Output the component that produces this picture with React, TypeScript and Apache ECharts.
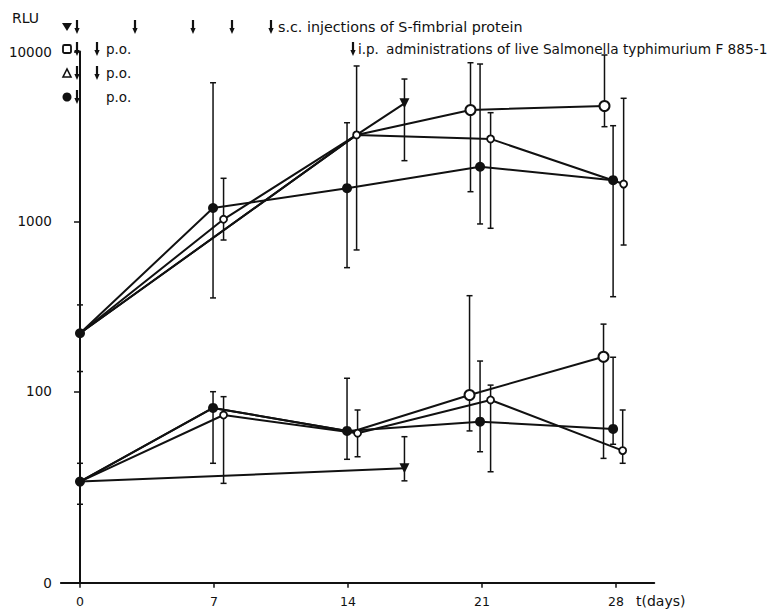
import React, { useEffect, useRef } from "react";
import * as echarts from "echarts";

// ---------- data (values in RLU, x in days) ----------
// upper (responding) group
const filledHighDays = [0, 6.95, 13.95, 20.9, 27.85];
const filledHighVals = [220, 1200, 1570, 2100, 1750];
const filledHighLo = [131, 355, 535, 967, 361];
const filledHighHi = [323, 6550, 3810, 8440, 3660];

const triHighDays = [0, 7.5, 14.45, 21.45, 28.4];
const triHighVals = [220, 1030, 3230, 3060, 1660];
const triHighLo = [null, 778, 680, 912, 727];
const triHighHi = [null, 1795, 8220, 4365, 5305];

const sqHighDays = [0, 14.45, 20.4, 27.4];
const sqHighVals = [220, 3230, 4530, 4780];
const sqHighLo = [null, null, 1497, 3611];
const sqHighHi = [null, null, 8590, 9537];

const invHighDays = [0, 14.45, 16.95];
const invHighVals = [220, 3230, 4955];
const invHighLo = [null, null, 2279];
const invHighHi = [null, null, 6887];

// lower group
const filledLowDays = [0, 6.95, 13.95, 20.9, 27.85];
const filledLowVals = [29.5, 80, 58.6, 66.4, 60.2];
const filledLowLo = [21.7, 37.8, 39.9, 44.2, 48.9];
const filledLowHi = [37.8, 99.7, 119.6, 151, 159];

const triLowDays = [0, 7.5, 14.5, 21.45, 28.35];
const triLowVals = [29.5, 72.7, 56.8, 89.1, 44.9];
const triLowLo = [null, 28.8, 41.3, 33.7, 37.8];
const triLowHi = [null, 93.2, 77.8, 109, 77.8];

const sqLowDays = [0, 6.95, 14.2, 20.35, 27.35];
const sqLowVals = [29.5, 80, 58, 95.3, 160];
const sqLowLo = [null, null, null, 58.6, 40.4];
const sqLowHi = [null, null, null, 366, 249];

const invLowDays = [0, 16.95];
const invLowVals = [29.5, 35.3];
const invLowLo = [null, 29.8];
const invLowHi = [null, 54.2];

// axes
const xTicks = [0, 7, 14, 21, 28];
const yTickVals = [100, 1000, 10000];
const yBottomLabel = "0";
const Y_MIN = 0.875; // log10 position of the "0" baseline
const Y_MAX = 4;

const FONT = "DejaVu Sans";
const INK = "#111";

const L = (v: number) => Math.log10(v);

type Marker = "filled" | "tri" | "sq" | "inv";

function lineSeries(
  name: string,
  days: number[],
  vals: number[],
  marker: Marker,
  hidden: number[]
) {
  const base: any = {
    name,
    type: "line",
    z: 3,
    lineStyle: { color: INK, width: 2 },
    showSymbol: true,
    data: days.map((d, i) => {
      const item: any = { value: [d, L(vals[i])] };
      if (hidden.includes(i)) item.symbol = "none";
      return item;
    }),
  };
  if (marker === "filled") {
    base.symbol = "circle";
    base.symbolSize = 10;
    base.itemStyle = { color: INK };
  } else if (marker === "sq") {
    base.symbol = "circle";
    base.symbolSize = 10;
    base.itemStyle = { color: "#fff", borderColor: INK, borderWidth: 2 };
  } else if (marker === "tri") {
    base.symbol = "circle";
    base.symbolSize = 7;
    base.itemStyle = { color: "#fff", borderColor: INK, borderWidth: 1.8 };
  } else {
    base.symbol = "triangle";
    base.symbolRotate = 180;
    base.symbolSize = 10;
    base.itemStyle = { color: INK };
  }
  return base;
}

function errData(days: number[], lo: (number | null)[], hi: (number | null)[]) {
  const out: number[][] = [];
  days.forEach((d, i) => {
    const a = lo[i];
    const b = hi[i];
    if (a != null && b != null) out.push([d, L(a), L(b)]);
  });
  return out;
}

function arrow(x: number, y: number): any {
  return {
    type: "group",
    children: [
      {
        type: "line",
        shape: { x1: x, y1: y - 7, x2: x, y2: y + 3 },
        style: { stroke: INK, lineWidth: 2.2 },
      },
      {
        type: "polygon",
        shape: { points: [[x - 2.6, y + 1], [x + 2.6, y + 1], [x, y + 7]] },
        style: { fill: INK },
      },
    ],
  };
}

function label(text: string, x: number, y: number, size = 13.5, weight = "normal"): any {
  return {
    type: "text",
    x,
    y,
    style: {
      text,
      fill: INK,
      fontSize: size,
      fontFamily: FONT,
      fontWeight: weight,
      verticalAlign: "middle",
      align: "left",
    },
  };
}

export default function App() {
  const ref = useRef<HTMLDivElement>(null);

  useEffect(() => {
    if (!ref.current) return;
    const chart = echarts.init(ref.current, null, { renderer: "svg" });

    const errAll = [
      ...errData(filledHighDays, filledHighLo, filledHighHi),
      ...errData(triHighDays, triHighLo, triHighHi),
      ...errData(sqHighDays, sqHighLo, sqHighHi),
      ...errData(invHighDays, invHighLo, invHighHi),
      ...errData(filledLowDays, filledLowLo, filledLowHi),
      ...errData(triLowDays, triLowLo, triLowHi),
      ...errData(sqLowDays, sqLowLo, sqLowHi),
      ...errData(invLowDays, invLowLo, invLowHi),
    ];

    const yCustom = [Y_MIN, ...yTickVals.map(L)];

    const r1 = 27;
    const r2 = 49;
    const r3 = 73;
    const r4 = 97;

    const option: any = {
      animation: false,
      backgroundColor: "#fff",
      grid: { left: 60.86, top: 51.5, width: 593.4, height: 531.2 },
      xAxis: {
        type: "value",
        min: -1,
        max: 30,
        splitLine: { show: false },
        axisLine: { show: true, lineStyle: { color: INK, width: 2 } },
        axisTick: {
          show: true,
          length: 5,
          customValues: xTicks,
          lineStyle: { color: INK, width: 1.5 },
        },
        axisLabel: {
          customValues: xTicks,
          color: INK,
          fontSize: 12.5,
          fontFamily: FONT,
          margin: 12,
        },
      },
      yAxis: {
        type: "value",
        min: Y_MIN,
        max: Y_MAX,
        splitLine: { show: false },
        axisLine: { show: true, lineStyle: { color: INK, width: 2 } },
        axisTick: {
          show: true,
          length: 6,
          customValues: yCustom,
          lineStyle: { color: INK, width: 1.5 },
        },
        axisLabel: {
          customValues: yCustom,
          color: INK,
          fontSize: 13.5,
          fontFamily: FONT,
          margin: 9,
          formatter: (v: number) =>
            Math.abs(v - Y_MIN) < 1e-6 ? yBottomLabel : String(Math.round(Math.pow(10, v))),
        },
      },
      series: [
        {
          type: "custom",
          name: "error bars",
          z: 1,
          clip: false,
          encode: { x: 0, y: [1, 2] },
          data: errAll,
          renderItem: (_p: any, api: any) => {
            const x = api.value(0);
            const p1 = api.coord([x, api.value(1)]);
            const p2 = api.coord([x, api.value(2)]);
            const cap = 3;
            const st = { stroke: INK, lineWidth: 1.5 };
            return {
              type: "group",
              children: [
                { type: "line", shape: { x1: p1[0], y1: p1[1], x2: p2[0], y2: p2[1] }, style: st },
                { type: "line", shape: { x1: p1[0] - cap, y1: p1[1], x2: p1[0] + cap, y2: p1[1] }, style: st },
                { type: "line", shape: { x1: p2[0] - cap, y1: p2[1], x2: p2[0] + cap, y2: p2[1] }, style: st },
              ],
            };
          },
        },
        lineSeries("▼ high", invHighDays, invHighVals, "inv", [0, 1]),
        lineSeries("□ high", sqHighDays, sqHighVals, "sq", [0, 1]),
        lineSeries("△ high", triHighDays, triHighVals, "tri", [0]),
        lineSeries("● high", filledHighDays, filledHighVals, "filled", []),
        lineSeries("▼ low", invLowDays, invLowVals, "inv", [0]),
        lineSeries("□ low", sqLowDays, sqLowVals, "sq", [0, 1, 2]),
        lineSeries("△ low", triLowDays, triLowVals, "tri", [0]),
        lineSeries("● low", filledLowDays, filledLowVals, "filled", []),
      ],
      graphic: [
        label("RLU", 12, 18, 14),
        label("t(days)", 636, 601, 14),
        // row 1
        {
          type: "polygon",
          shape: { points: [[62, r1 - 4], [72, r1 - 4], [67, r1 + 4]] },
          style: { fill: INK },
        },
        arrow(77, r1),
        arrow(135, r1),
        arrow(193, r1),
        arrow(232, r1),
        arrow(271, r1),
        label("s.c. injections of S-fimbrial protein", 278, r1, 14.3),
        // row 2
        {
          type: "rect",
          shape: { x: 63, y: r2 - 4, width: 8, height: 8, r: 1.5 },
          style: { fill: "#fff", stroke: INK, lineWidth: 1.8 },
        },
        arrow(77, r2),
        arrow(97, r2),
        label("p.o.", 106, r2, 13.5),
        arrow(353, r2),
        label("i.p.", 358, r2, 13.5),
        label("administrations of live Salmonella typhimurium F 885-1", 386, r2, 13.7),
        // row 3
        {
          type: "polygon",
          shape: { points: [[63, r3 + 4], [71, r3 + 4], [67, r3 - 4]] },
          style: { fill: "#fff", stroke: INK, lineWidth: 1.6 },
        },
        arrow(77, r3),
        arrow(97, r3),
        label("p.o.", 106, r3, 13.5),
        // row 4
        {
          type: "circle",
          shape: { cx: 67, cy: r4, r: 4.5 },
          style: { fill: INK },
        },
        arrow(77, r4),
        label("p.o.", 106, r4, 13.5),
      ],
    };

    chart.setOption(option);
    return () => chart.dispose();
  }, []);

  return (
    <div
      ref={ref}
      style={{ position: "absolute", left: 0, top: 0, width: 779, height: 609, background: "#fff" }}
    />
  );
}
